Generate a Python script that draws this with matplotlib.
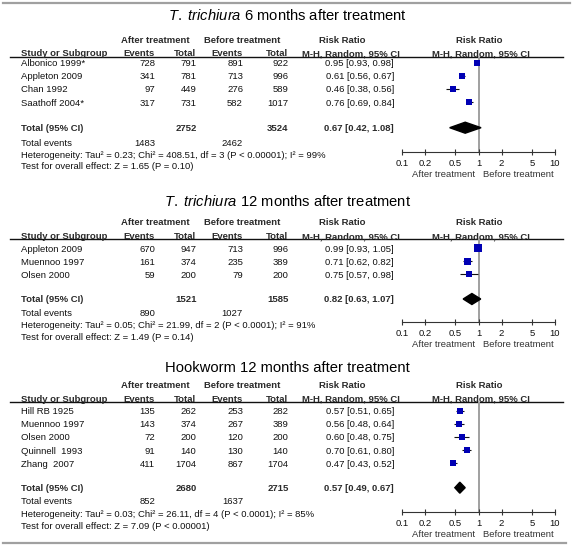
import matplotlib
matplotlib.use("Agg")
import matplotlib.pyplot as plt
from matplotlib.patches import Polygon
from matplotlib.ticker import NullLocator

plt.rcParams['font.family'] = ['Liberation Sans', 'DejaVu Sans']
plt.rcParams['mathtext.fontset'] = 'custom'
plt.rcParams['mathtext.it'] = 'Liberation Sans:italic'
plt.rcParams['mathtext.rm'] = 'Liberation Sans'

# ---- data ----
# T. trichiura 6 months
tt6_studies = ["Albonico 1999*", "Appleton 2009", "Chan 1992", "Saathoff 2004*"]
tt6_after_ev = [728, 341, 97, 317]
tt6_after_n = [791, 781, 449, 731]
tt6_before_ev = [891, 713, 276, 582]
tt6_before_n = [922, 996, 589, 1017]
tt6_rr = [0.95, 0.61, 0.46, 0.76]
tt6_lo = [0.93, 0.56, 0.38, 0.69]
tt6_hi = [0.98, 0.67, 0.56, 0.84]
tt6_total = [2752, 3524, 1483, 2462]   # after N, before N, after events, before events
tt6_pooled = [0.67, 0.42, 1.08]
tt6_het = ["0.23", "408.51", "3", "P < 0.00001", "99"]
tt6_z = ["1.65", "P = 0.10"]

# T. trichiura 12 months
tt12_studies = ["Appleton 2009", "Muennoo 1997", "Olsen 2000"]
tt12_after_ev = [670, 161, 59]
tt12_after_n = [947, 374, 200]
tt12_before_ev = [713, 235, 79]
tt12_before_n = [996, 389, 200]
tt12_rr = [0.99, 0.71, 0.75]
tt12_lo = [0.93, 0.62, 0.57]
tt12_hi = [1.05, 0.82, 0.98]
tt12_total = [1521, 1585, 890, 1027]
tt12_pooled = [0.82, 0.63, 1.07]
tt12_het = ["0.05", "21.99", "2", "P < 0.0001", "91"]
tt12_z = ["1.49", "P = 0.14"]

# Hookworm 12 months
hw_studies = ["Hill RB 1925", "Muennoo 1997", "Olsen 2000", "Quinnell  1993", "Zhang  2007"]
hw_after_ev = [135, 143, 72, 91, 411]
hw_after_n = [262, 374, 200, 140, 1704]
hw_before_ev = [253, 267, 120, 130, 867]
hw_before_n = [282, 389, 200, 140, 1704]
hw_rr = [0.57, 0.56, 0.60, 0.70, 0.47]
hw_lo = [0.51, 0.48, 0.48, 0.61, 0.43]
hw_hi = [0.65, 0.64, 0.75, 0.80, 0.52]
hw_total = [2680, 2715, 852, 1637]
hw_pooled = [0.57, 0.49, 0.67]
hw_het = ["0.03", "26.11", "4", "P < 0.0001", "85"]
hw_z = ["7.09", "P < 0.00001"]

tick_vals = [0.1, 0.2, 0.5, 1, 2, 5, 10]
tick_labels = ["0.1", "0.2", "0.5", "1", "2", "5", "10"]

panels = [
    dict(title=r"$\mathit{T.}$ $\mathit{trichiura}$ 6 months after treatment",
         studies=tt6_studies, a_ev=tt6_after_ev, a_n=tt6_after_n,
         b_ev=tt6_before_ev, b_n=tt6_before_n, rr=tt6_rr, lo=tt6_lo, hi=tt6_hi,
         total=tt6_total, pooled=tt6_pooled, het=tt6_het, z=tt6_z),
    dict(title=r"$\mathit{T.}$ $\mathit{trichiura}$ 12 months after treatment",
         studies=tt12_studies, a_ev=tt12_after_ev, a_n=tt12_after_n,
         b_ev=tt12_before_ev, b_n=tt12_before_n, rr=tt12_rr, lo=tt12_lo, hi=tt12_hi,
         total=tt12_total, pooled=tt12_pooled, het=tt12_het, z=tt12_z),
    dict(title="Hookworm 12 months after treatment",
         studies=hw_studies, a_ev=hw_after_ev, a_n=hw_after_n,
         b_ev=hw_before_ev, b_n=hw_before_n, rr=hw_rr, lo=hw_lo, hi=hw_hi,
         total=hw_total, pooled=hw_pooled, het=hw_het, z=hw_z),
]

# ---- layout (pixel rows of each block) ----
layouts = [
    dict(title=14, group=39.3, head=52.7, line=57.3, row0=62.7, tot=127.7, ev=142.7, het=154, test=165.7, axis=151.7),
    dict(title=200, group=221.7, head=235.7, line=239.3, row0=248.3, tot=299, ev=312.3, het=324.3, test=336.7, axis=321.7),
    dict(title=366, group=385, head=398.3, line=402.3, row0=410.7, tot=487.7, ev=500.7, het=513.3, test=525.7, axis=511.7),
]
sq_px = [[5.5, 6, 6, 6], [8, 7, 5.5], [5.5, 5.5, 5.5, 5.5, 5.5]]

W, H = 574, 547
FS = 6.8
TXT = '#111111'
HDR = '#2a2a2a'
BLUE = '#0000b4'
col_study = 21
col_aev, col_an, col_bev, col_bn, col_rr = 155, 196.5, 243, 288.5, 394
fx0, fx1 = 402, 555

fig = plt.figure(figsize=(W / 100, H / 100), dpi=100)
bg = fig.add_axes([0, 0, 1, 1])
bg.set_xlim(0, W)
bg.set_ylim(H, 0)
bg.axis('off')


def txt(x, y, s, ha='left', bold=False, size=FS, color=TXT):
    bg.text(x, y, s, ha=ha, va='center_baseline', fontsize=size, color=color,
            fontweight='bold' if bold else 'normal')


def draw_panel(p, t, sizes):
    txt(287.5, t['title'], p['title'], ha='center', size=10.6, color='#000000')
    txt(155, t['group'], "After treatment", ha='center', bold=True, color=HDR)
    txt(242, t['group'], "Before treatment", ha='center', bold=True, color=HDR)
    txt(342, t['group'], "Risk Ratio", ha='center', bold=True, color=HDR)
    txt(479, t['group'], "Risk Ratio", ha='center', bold=True, color=HDR)
    txt(col_study, t['head'], "Study or Subgroup", bold=True, color=HDR)
    txt(col_aev, t['head'], "Events", ha='right', bold=True, color=HDR)
    txt(col_an, t['head'], "Total", ha='right', bold=True, color=HDR)
    txt(col_bev, t['head'], "Events", ha='right', bold=True, color=HDR)
    txt(col_bn, t['head'], "Total", ha='right', bold=True, color=HDR)
    txt(351, t['head'], "M-H, Random, 95% CI", ha='center', bold=True, color=HDR)
    txt(481, t['head'], "M-H, Random, 95% CI", ha='center', bold=True, color=HDR)
    bg.plot([10, 563], [t['line'], t['line']], color='#111111', lw=1.0)

    ys = [t['row0'] + 13.1 * i for i in range(len(p['studies']))]
    for i, y in enumerate(ys):
        txt(col_study, y, p['studies'][i])
        txt(col_aev, y, str(p['a_ev'][i]), ha='right')
        txt(col_an, y, str(p['a_n'][i]), ha='right')
        txt(col_bev, y, str(p['b_ev'][i]), ha='right')
        txt(col_bn, y, str(p['b_n'][i]), ha='right')
        txt(col_rr, y, f"{p['rr'][i]:.2f} [{p['lo'][i]:.2f}, {p['hi'][i]:.2f}]", ha='right')

    tot = p['total']
    pr, pl, ph = p['pooled']
    txt(col_study, t['tot'], "Total (95% CI)", bold=True, color=HDR)
    txt(col_an, t['tot'], str(tot[0]), ha='right', bold=True, color=HDR)
    txt(col_bn, t['tot'], str(tot[1]), ha='right', bold=True, color=HDR)
    txt(col_rr, t['tot'], f"{pr:.2f} [{pl:.2f}, {ph:.2f}]", ha='right', bold=True, color=HDR)
    txt(col_study, t['ev'], "Total events")
    txt(col_aev, t['ev'], str(tot[2]), ha='right')
    txt(col_bev, t['ev'], str(tot[3]), ha='right')
    h = p['het']
    txt(col_study, t['het'],
        f"Heterogeneity: Tau\u00b2 = {h[0]}; Chi\u00b2 = {h[1]}, df = {h[2]} ({h[3]}); I\u00b2 = {h[4]}%")
    txt(col_study, t['test'], f"Test for overall effect: Z = {p['z'][0]} ({p['z'][1]})")

    # forest plot
    ax = fig.add_axes([fx0 / W, (H - t['axis']) / H, (fx1 - fx0) / W, (t['axis'] - t['line']) / H])
    ax.set_xscale('log')
    ax.set_xlim(0.1, 10)
    ax.set_ylim(t['axis'], t['line'])
    ax.patch.set_alpha(0)
    for s in ['top', 'left', 'right']:
        ax.spines[s].set_visible(False)
    ax.spines['bottom'].set_color('#333333')
    ax.spines['bottom'].set_linewidth(0.8)
    ax.axvline(1, color='#a0a0a0', lw=1.4, zorder=0)
    ax.set_xticks(tick_vals)
    ax.set_xticklabels(tick_labels)
    ax.xaxis.set_minor_locator(NullLocator())
    ax.set_yticks([])
    ax.tick_params(axis='x', direction='inout', length=5, width=0.8, color='#333333',
                   pad=2.5, labelsize=FS, labelcolor=TXT)
    ax.hlines(ys, p['lo'], p['hi'], color='#111111', lw=0.8, zorder=2)
    for i, y in enumerate(ys):
        ax.plot(p['rr'][i], y, marker='s', ms=sizes[i] * 0.72, color=BLUE,
                mec=BLUE, mew=0, zorder=3, clip_on=False)
    dy = t['tot']
    ax.add_patch(Polygon([(pl, dy), (pr, dy - 5.5), (ph, dy), (pr, dy + 5.5)],
                         closed=True, color='black', zorder=3, clip_on=False))
    txt(443.5, t['axis'] + 21.6, "After treatment", ha='center', color='#333333')
    txt(518, t['axis'] + 21.6, "Before treatment", ha='center', color='#333333')


for p, t, s in zip(panels, layouts, sq_px):
    draw_panel(p, t, s)

bg.plot([3, 570], [3, 3], color='#a0a0a0', lw=1.6)
bg.plot([3, 566], [543, 543], color='#a0a0a0', lw=1.6)

fig.savefig("out.png", dpi=100)
